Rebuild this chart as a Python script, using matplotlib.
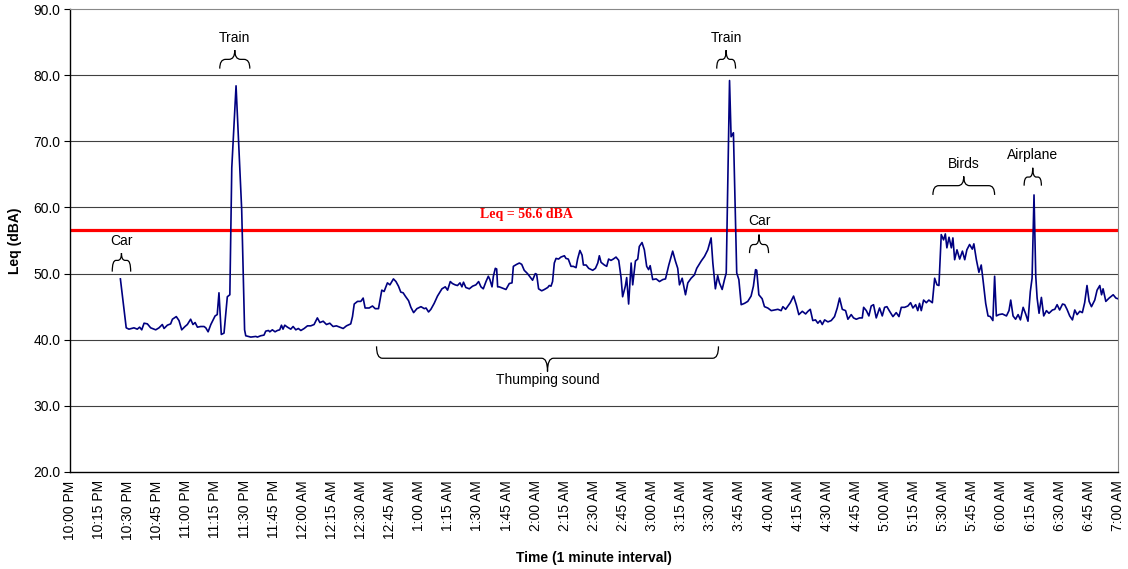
import matplotlib.pyplot as plt
import numpy as np
from matplotlib.path import Path
from matplotlib.patches import PathPatch

plt.rcParams["font.family"] = ["Liberation Sans", "DejaVu Sans"]

# minutes after 10:00 PM, Leq values
minutes = [
    26, 29, 30.4, 33, 34.7, 35.9, 37, 38.2, 39.9, 41.6, 44.2, 45.9, 47.6, 48.5,
    50.2, 51.9, 52.8, 54.8, 56.2, 57.6, 59.3, 60.5, 62.2, 63.4, 64.5, 65.7,
    67.4, 69.1, 70.0, 71.2, 72.6, 74.8, 75.9, 76.8, 78.0, 79.4, 81.1, 82.4,
    83.4, 85.6, 88.5, 90.0, 90.6, 93.2, 95.8, 96.6, 98.3, 100, 100.9, 102.3,
    103, 104.3, 105.7, 106.9, 108.1, 109, 109.8, 110.7, 112.1, 113.8, 115,
    116.4, 117.7, 119, 120.7, 122.4, 124.1, 125.8, 127.5, 128.8, 130.5, 132.2,
    133.9, 135.6, 137.3, 139.1, 140.8, 142.5, 144.7, 145.6, 146.5, 148.2,
    149.9, 151.1, 152.1, 154.2, 155.9, 157.3, 159, 160.7, 161.9, 163.6, 164.9,
    165.7, 166.7, 168, 169.3, 170.5, 171.7, 172.8, 174.5, 175.7, 177.1, 178.8,
    180.9, 182.6, 183.5, 184.8, 186, 187.7, 189.4, 191.7, 193.4, 194.6, 196,
    197.1, 198.5, 199.7, 201, 202, 202.8, 204, 205.8, 207.5, 209.2, 210.6,
    211.8, 213, 214.4, 215.6, 216.4, 217.5, 218.2, 219.2, 219.9, 220.4, 221.2,
    223, 224.7, 226.4, 227.8, 228.5, 230.2, 231.6, 232.8, 234.1, 235.8, 237.1,
    238.4, 239.8, 240.5, 241.5, 243.1, 244.5, 246.2, 247, 247.9, 248.7, 249.6,
    250.5, 251.8, 253, 254.8, 255.6, 256.8, 258.2, 259.4, 260.8, 261.6, 262.8,
    263.9, 264.6, 266, 267.3, 269.4, 270.8, 272, 272.8, 273.7, 275.4, 276.6,
    277.6, 278.8, 280, 281.4, 282.8, 284, 284.8, 286.2, 286.9, 287.9, 289.2,
    290, 291.4, 292.6, 293.4, 294.8, 296, 297.2, 298.2, 299, 300.3, 302.1,
    303.8, 305.5, 306.9, 308.6, 310.6, 312, 313.2, 314.1, 315.5, 317.2, 318.4,
    320.1, 321.8, 323, 325.3, 327, 328.7, 330.4, 331.3, 332.6, 333.8, 334.7,
    336.1, 337.3, 338.2, 339.9, 340.7, 341.9, 343.6, 344.7, 345.9, 347.6,
    349.3, 351, 352.2, 353.3, 353.9, 355, 356.7, 357.9, 359.6, 361.4, 363.1,
    364.8, 366.5, 367.4, 368.8, 370, 371.2, 372.9, 374.3, 375.6, 377.4, 379.1,
    380.3, 381.5, 382.8, 384.2, 385.4, 386.6, 387.7, 388.9, 390.6, 392.3, 394,
    395.4, 396.6, 398, 399.7, 400.9, 402.6, 403.8, 405.2, 406.9, 408.3, 409,
    410.4, 411.7, 412.9, 414.1, 415.5, 417.2, 418.6, 419.8, 421, 422.4, 424.1,
    425.8, 427.2, 428.4, 430.1, 431.8, 433.2, 434.4, 435.8, 436.9, 437.8,
    438.7, 439.9, 441.3, 442.6, 444.4, 445.6, 446.8, 447.8, 449, 450.2, 451.1,
    451.9, 453, 454.2, 455, 455.9, 457.1, 458.5, 459.9, 461.1, 462.2, 463.6,
    465, 465.8, 467.1, 468.4, 469.6, 470.5, 471.9, 473.1, 474.3, 475.6, 476.5,
    477.4, 478.7, 480.5, 482.6, 483.9, 484.8, 486, 487.3, 488.6, 489.8, 491.2,
    492.5, 493.7, 494.9, 495.8, 496.8, 497.7, 498.4, 499.4, 500.6, 501.8,
    503.2, 504.5, 506.3, 507.5, 508.7, 510, 511.5, 512.6, 513.8, 515.2, 516.6,
    517.8, 519, 520.4, 521.7, 522.9, 524.1, 525.2, 526.4, 528.1, 529.3, 530.7,
    531.6, 532.4, 533.8, 535.5, 537.6, 539, 540,
]
leq = [
    49.2, 41.8, 41.6, 41.8, 41.6, 41.9, 41.5, 42.5, 42.4, 41.8, 41.5, 41.8,
    42.3, 41.7, 42.2, 42.4, 43.1, 43.5, 42.9, 41.5, 42.0, 42.3, 43.1, 42.3,
    42.6, 41.9, 42.0, 42.0, 41.8, 41.2, 42.3, 43.6, 43.8, 47.1, 40.8, 41.0,
    46.5, 46.8, 66.0, 78.4, 59.7, 41.5, 40.6, 40.4, 40.5, 40.4, 40.6, 40.7,
    41.3, 41.4, 41.2, 41.5, 41.2, 41.4, 41.5, 42.2, 41.6, 42.2, 41.9, 41.6,
    42.0, 41.5, 41.7, 41.4, 41.7, 42.1, 42.1, 42.3, 43.3, 42.6, 42.8, 42.3,
    42.5, 42.0, 42.1, 41.9, 41.7, 42.1, 42.4, 43.5, 45.4, 45.8, 45.8, 46.3,
    44.8, 44.8, 45.1, 44.7, 44.7, 47.5, 47.3, 48.6, 48.3, 48.7, 49.2, 48.8,
    48.1, 47.2, 47.1, 46.6, 45.9, 44.9, 44.1, 44.7, 45.0, 44.7, 44.8, 44.2,
    44.6, 45.5, 46.6, 47.7, 48.0, 47.5, 48.8, 48.5, 48.3, 48.2, 48.6, 48.0,
    48.7, 47.9, 47.7, 48.1, 48.3, 48.8, 48.0, 47.7, 48.8, 49.6, 49.1, 48.0,
    49.6, 50.8, 50.7, 48.0, 48.0, 47.8, 47.6, 48.5, 48.6, 51.1, 51.4, 51.6,
    51.4, 50.5, 50.0, 49.5, 49.0, 50.0, 49.9, 47.7, 47.4, 47.6, 47.9, 48.2,
    48.1, 48.8, 51.6, 52.3, 52.2, 52.5, 52.7, 52.3, 52.2, 51.1, 51.1, 50.9,
    52.2, 53.5, 52.8, 51.3, 51.3, 50.8, 50.5, 50.8, 51.6, 52.7, 51.7, 51.3,
    51.1, 52.2, 52.0, 52.2, 52.5, 52.0, 49.4, 46.5, 48.1, 49.4, 45.4, 51.6,
    48.3, 51.9, 52.2, 54.1, 54.7, 53.6, 51.1, 50.6, 51.2, 49.1, 49.2, 48.8,
    49.1, 49.2, 51.3, 53.4, 51.9, 50.8, 48.3, 49.3, 46.8, 48.6, 49.3, 49.8,
    50.8, 51.9, 52.6, 53.6, 55.4, 51.6, 47.7, 49.7, 48.6, 47.6, 49.1, 50.1,
    79.2, 70.7, 71.3, 50.1, 49.1, 45.3, 45.5, 45.8, 46.6, 48.1, 50.6, 50.5,
    46.8, 46.2, 45.0, 44.8, 44.4, 44.5, 44.6, 44.4, 45.0, 44.6, 45.1, 45.6,
    46.6, 45.3, 43.8, 44.3, 43.9, 44.3, 44.6, 42.9, 43.0, 42.5, 42.9, 42.3,
    43.0, 42.7, 42.9, 43.5, 44.8, 46.3, 44.6, 44.4, 43.1, 43.8, 43.3, 43.1,
    43.3, 43.3, 44.9, 44.4, 43.6, 45.1, 45.3, 43.3, 44.8, 43.6, 44.9, 45.0,
    44.3, 43.5, 44.1, 43.5, 44.9, 44.9, 45.1, 45.6, 44.8, 45.3, 44.4, 45.5,
    44.4, 46.0, 45.6, 46.0, 45.6, 49.3, 48.3, 48.2, 55.9, 55.1, 56.0, 53.9,
    55.5, 53.9, 55.4, 52.1, 53.6, 52.2, 53.4, 52.1, 53.6, 54.4, 53.7, 54.5,
    52.1, 50.2, 51.3, 49.1, 45.5, 43.6, 43.5, 42.9, 49.6, 43.6, 43.8, 43.9,
    43.6, 44.4, 46.0, 43.6, 43.1, 43.8, 43.0, 44.9, 43.9, 42.8, 47.3, 49.3,
    61.9, 49.6, 46.3, 44.0, 46.4, 43.6, 44.4, 44.0, 44.5, 44.6, 45.3, 44.5,
    45.4, 45.3, 44.6, 43.6, 43.0, 44.5, 43.8, 44.3, 44.1, 45.6, 48.2, 45.8,
    45.0, 46.0, 47.5, 48.2, 46.8, 47.7, 45.8, 46.3, 46.8, 46.3, 46.2,
]

leq_avg = 56.6

tick_labels = [
    "10:00 PM", "10:15 PM", "10:30 PM", "10:45 PM", "11:00 PM", "11:15 PM",
    "11:30 PM", "11:45 PM", "12:00 AM", "12:15 AM", "12:30 AM", "12:45 AM",
    "1:00 AM", "1:15 AM", "1:30 AM", "1:45 AM", "2:00 AM", "2:15 AM",
    "2:30 AM", "2:45 AM", "3:00 AM", "3:15 AM", "3:30 AM", "3:45 AM",
    "4:00 AM", "4:15 AM", "4:30 AM", "4:45 AM", "5:00 AM", "5:15 AM",
    "5:30 AM", "5:45 AM", "6:00 AM", "6:15 AM", "6:30 AM", "6:45 AM",
    "7:00 AM",
]

# event labels: text, brace start/end (minutes), tip, bar, point level, text level
events = [
    ("Car", 21.8, 31.3, 50.3, 52.0, 53.1, 55.0),
    ("Train", 77.2, 92.7, 81.0, 82.4, 83.8, 85.6),
    ("Train", 333.3, 343.0, 81.0, 82.4, 83.8, 85.6),
    ("Car", 350.2, 360.0, 53.1, 54.4, 55.9, 58.0),
    ("Birds", 444.7, 476.5, 61.9, 63.3, 64.7, 66.6),
    ("Airplane", 491.7, 500.6, 63.3, 64.6, 66.0, 67.9),
    ("Thumping sound", 158.0, 334.2, 39.0, 37.2, 35.2, 33.9),
]


def draw_brace(ax, x0, x1, y_tip, y_bar, y_point, dx):
    xc = (x0 + x1) / 2
    verts = [
        (x0, y_tip), (x0, y_bar), (x0 + dx, y_bar),
        (xc - dx, y_bar), (xc, y_bar), (xc, y_point),
        (xc, y_bar), (xc + dx, y_bar),
        (x1 - dx, y_bar), (x1, y_bar), (x1, y_tip),
    ]
    codes = [
        Path.MOVETO, Path.CURVE3, Path.CURVE3,
        Path.LINETO, Path.CURVE3, Path.CURVE3,
        Path.CURVE3, Path.CURVE3,
        Path.LINETO, Path.CURVE3, Path.CURVE3,
    ]
    ax.add_patch(PathPatch(Path(verts, codes), fill=False, lw=0.9,
                           edgecolor="black"))


fig = plt.figure(figsize=(11.28, 5.69), dpi=100)
ax = fig.add_axes([0.062, 0.1705, 0.929, 0.8135])

ax.set_ylim(20, 90)
ax.set_xlim(0, 540)
ax.set_yticks(np.arange(20, 91, 10))
ax.set_yticklabels([f"{v:.1f}" for v in np.arange(20, 91, 10)], fontsize=10)
ax.set_xticks(np.arange(0, 541, 15))
ax.set_xticklabels(tick_labels, rotation=90, fontsize=10)
ax.tick_params(axis="x", length=0, pad=6)
ax.tick_params(axis="y", length=4, width=0.8, pad=3)

for v in range(30, 90, 10):
    ax.axhline(v, color="#404040", lw=0.8, zorder=1)

ax.spines["top"].set_color("#888888")
ax.spines["right"].set_color("#888888")
ax.spines["left"].set_linewidth(1.0)
ax.spines["bottom"].set_linewidth(1.0)

ax.axhline(leq_avg, color="#ff0000", lw=2.3, zorder=2)
ax.text(235, leq_avg + 2.3, f"Leq = {leq_avg} dBA", color="#ff0000",
        fontsize=10, fontweight="bold", family="Liberation Serif",
        ha="center", va="center")

ax.plot(minutes, leq, color="#000080", lw=1.2, zorder=3)

for name, x0, x1, y_tip, y_bar, y_point, y_text in events:
    dx = min(3.0, 0.2 * (x1 - x0))
    draw_brace(ax, x0, x1, y_tip, y_bar, y_point, dx)
    ax.text((x0 + x1) / 2, y_text, name, fontsize=10, ha="center",
            va="center")

ax.set_ylabel("Leq (dBA)", fontsize=10, fontweight="bold", labelpad=8)
ax.set_xlabel("Time (1 minute interval)", fontsize=10, fontweight="bold",
              labelpad=8)

fig.savefig("out.png", dpi=100)
